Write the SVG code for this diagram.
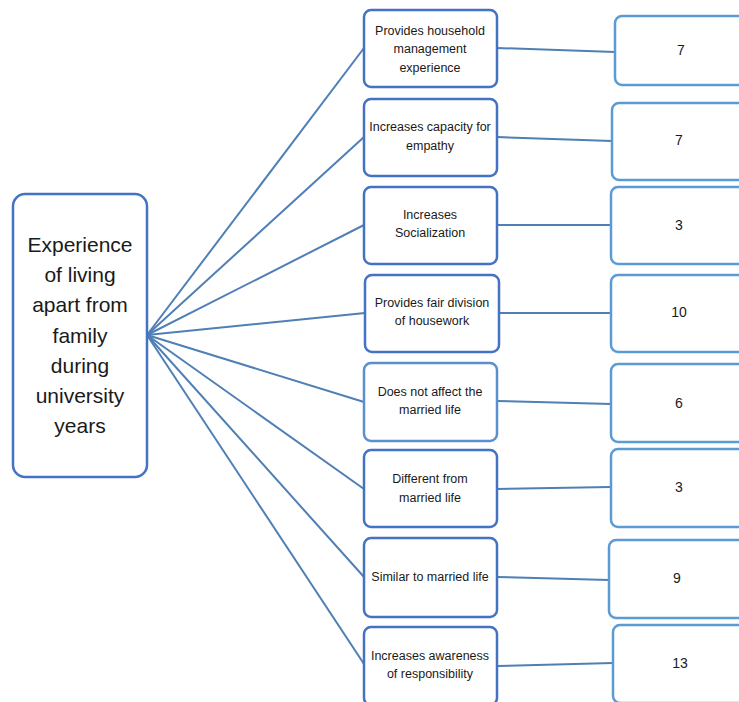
<svg xmlns="http://www.w3.org/2000/svg" width="739" height="702" viewBox="0 0 739 702">
<style>
.hub{fill:#fff;stroke:#4472C4;stroke-width:2.5}
.mid{fill:#fff;stroke:#4472C4;stroke-width:2.5}
.midl{fill:#fff;stroke:#5B8FD0;stroke-width:2.5}
.val{fill:#fff;stroke:#5B9BD5;stroke-width:2.5}
.c{stroke:#4F7FB5;stroke-width:2;fill:none}
text{font-family:"Liberation Sans",Arial,sans-serif;fill:#1a1a1a;text-anchor:middle}
.t1{font-size:21px}
.t2{font-size:12.5px}
.t3{font-size:14px}
</style>
<rect width="739" height="702" fill="#fff"/>
<g id="connectors">
<line class="c" x1="147" y1="335" x2="364" y2="48"/>
<line class="c" x1="147" y1="335" x2="364" y2="137"/>
<line class="c" x1="147" y1="335" x2="364" y2="225"/>
<line class="c" x1="147" y1="335" x2="365" y2="313"/>
<line class="c" x1="147" y1="335" x2="364" y2="402"/>
<line class="c" x1="147" y1="335" x2="364" y2="489"/>
<line class="c" x1="147" y1="335" x2="364" y2="577"/>
<line class="c" x1="147" y1="335" x2="364" y2="664"/>
<line class="c" x1="497" y1="48" x2="615" y2="52"/>
<line class="c" x1="497" y1="137" x2="612" y2="141"/>
<line class="c" x1="497" y1="225" x2="611" y2="225"/>
<line class="c" x1="499" y1="313" x2="611" y2="313"/>
<line class="c" x1="497" y1="401" x2="611" y2="404"/>
<line class="c" x1="497" y1="489" x2="611" y2="487"/>
<line class="c" x1="497" y1="577" x2="609" y2="580"/>
<line class="c" x1="497" y1="666" x2="613" y2="663"/>
</g>
<g id="hub">
<rect class="hub" x="13" y="194" width="134" height="283" rx="12"/>
<text class="t1" x="80" y="252">Experience</text>
<text class="t1" x="80" y="282">of living</text>
<text class="t1" x="80" y="312">apart from</text>
<text class="t1" x="80" y="343">family</text>
<text class="t1" x="80" y="373">during</text>
<text class="t1" x="80" y="403">university</text>
<text class="t1" x="80" y="433">years</text>
</g>
<g id="n1">
<rect class="mid" x="364" y="10" width="133" height="77" rx="7"/>
<text class="t2" x="430" y="35">Provides household</text>
<text class="t2" x="430" y="53">management</text>
<text class="t2" x="430" y="72">experience</text>
</g>
<g id="n2">
<rect class="mid" x="364" y="99" width="133" height="77" rx="7"/>
<text class="t2" x="430" y="131">Increases capacity for</text>
<text class="t2" x="430" y="150">empathy</text>
</g>
<g id="n3">
<rect class="mid" x="364" y="187" width="133" height="77" rx="7"/>
<text class="t2" x="430" y="219">Increases</text>
<text class="t2" x="430" y="237">Socialization</text>
</g>
<g id="n4">
<rect class="mid" x="365" y="275" width="134" height="77" rx="7"/>
<text class="t2" x="432" y="307">Provides fair division</text>
<text class="t2" x="432" y="325">of housework</text>
</g>
<g id="n5">
<rect class="midl" x="364" y="363" width="133" height="78" rx="7"/>
<text class="t2" x="430" y="396">Does not affect the</text>
<text class="t2" x="430" y="414">married life</text>
</g>
<g id="n6">
<rect class="mid" x="364" y="450" width="133" height="77" rx="7"/>
<text class="t2" x="430" y="483">Different from</text>
<text class="t2" x="430" y="502">married life</text>
</g>
<g id="n7">
<rect class="mid" x="364" y="538" width="133" height="79" rx="7"/>
<text class="t2" x="430" y="581">Similar to married life</text>
</g>
<g id="n8">
<rect class="mid" x="364" y="627" width="133" height="78" rx="7"/>
<text class="t2" x="430" y="660">Increases awareness</text>
<text class="t2" x="430" y="678">of responsibility</text>
</g>
<g id="v1">
<rect class="val" x="615" y="16" width="140" height="69" rx="7"/>
<text class="t3" x="681" y="55">7</text>
</g>
<g id="v2">
<rect class="val" x="612" y="103" width="143" height="77" rx="7"/>
<text class="t3" x="679" y="145">7</text>
</g>
<g id="v3">
<rect class="val" x="611" y="187" width="144" height="77" rx="7"/>
<text class="t3" x="679" y="230">3</text>
</g>
<g id="v4">
<rect class="val" x="611" y="275" width="144" height="77" rx="7"/>
<text class="t3" x="679" y="317">10</text>
</g>
<g id="v5">
<rect class="val" x="611" y="364" width="144" height="78" rx="7"/>
<text class="t3" x="679" y="408">6</text>
</g>
<g id="v6">
<rect class="val" x="611" y="449" width="144" height="78" rx="7"/>
<text class="t3" x="679" y="492">3</text>
</g>
<g id="v7">
<rect class="val" x="609" y="540" width="146" height="78" rx="7"/>
<text class="t3" x="677" y="583">9</text>
</g>
<g id="v8">
<rect class="val" x="613" y="625" width="142" height="78" rx="7"/>
<text class="t3" x="680" y="668">13</text>
</g>
</svg>
